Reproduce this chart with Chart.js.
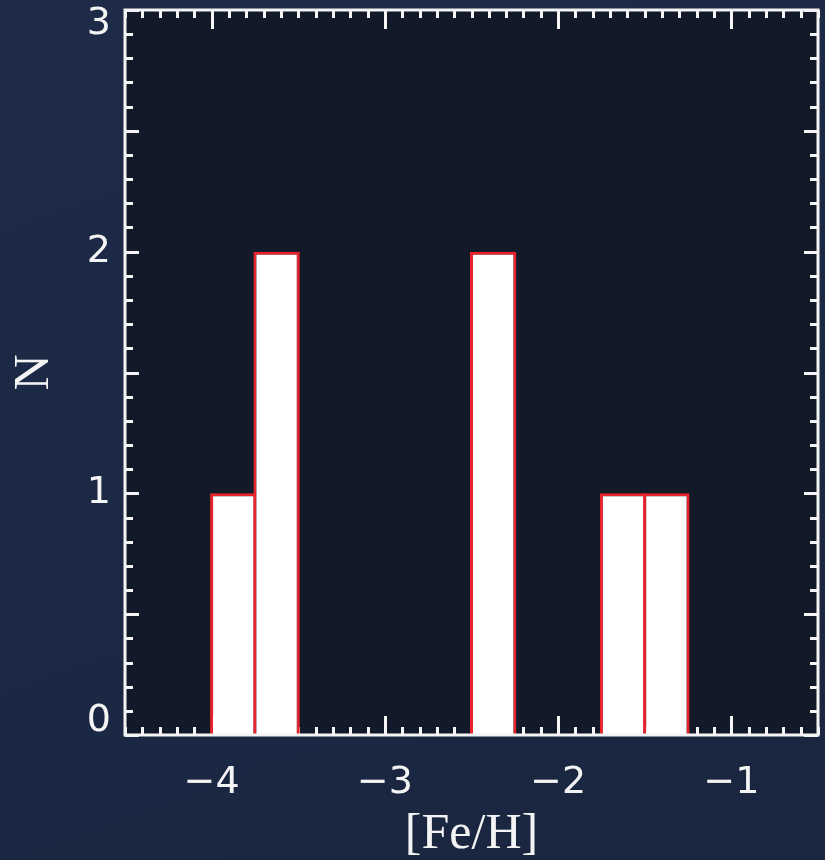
<!DOCTYPE html>
<html>
<head>
<meta charset="utf-8">
<script src="https://cdn.jsdelivr.net/npm/chart.js@4.4.1/dist/chart.umd.min.js"></script>
<style>
  html, body { margin: 0; padding: 0; }
  body { width: 825px; height: 860px; background: linear-gradient(160deg, #1d2b48 0%, #1b2844 60%, #1a263f 100%); }
  canvas { display: block; }
</style>
</head>
<body>
<canvas id="histChart" width="825" height="860"></canvas>
<script>
// histogram bins of [Fe/H], width 0.25 dex
const binLeft = [-4.0, -3.75, -2.5, -1.75, -1.5];
const binWidth = 0.25;
const counts = [1, 2, 2, 1, 1];

const xTickValues = [-4, -3, -2, -1];
const xTickLabels = ['\u22124', '\u22123', '\u22122', '\u22121'];
const yTickValues = [0, 1, 2, 3];
const yTickLabels = ['0', '1', '2', '3'];

const xRange = [-4.5, -0.5];
const yRange = [0, 3];

const ink = '#f4f4f4';

// plot fill + inward tick marks (under the bars), frame on top
const framePlugin = {
  id: 'frame',
  beforeDatasetsDraw(chart) {
    const { ctx, chartArea: a, scales } = chart;
    const xs = scales.x, ys = scales.y;
    ctx.save();
    ctx.fillStyle = '#121a29';
    ctx.fillRect(a.left, a.top, a.right - a.left, a.bottom - a.top);
    ctx.strokeStyle = ink;
    ctx.lineWidth = 3;
    ctx.beginPath();
    for (let i = Math.round(xRange[0] * 10); i <= Math.round(xRange[1] * 10); i++) {
      const px = Math.round(xs.getPixelForValue(i / 10)) + 0.5;
      const len = i % 10 === 0 ? 19 : 8;
      ctx.moveTo(px, a.bottom); ctx.lineTo(px, a.bottom - len);
      ctx.moveTo(px, a.top); ctx.lineTo(px, a.top + len);
    }
    for (let i = yRange[0] * 10; i <= yRange[1] * 10; i++) {
      const py = Math.round(ys.getPixelForValue(i / 10)) + 0.5;
      const len = i % 5 === 0 ? 14 : 8;
      ctx.moveTo(a.left, py); ctx.lineTo(a.left + len, py);
      ctx.moveTo(a.right, py); ctx.lineTo(a.right - len, py);
    }
    ctx.stroke();
    ctx.restore();
  },
  afterDraw(chart) {
    const { ctx, chartArea: a } = chart;
    ctx.save();
    ctx.strokeStyle = ink;
    ctx.lineWidth = 3;
    ctx.strokeRect(a.left, a.top, a.right - a.left, a.bottom - a.top);
    ctx.restore();
  }
};

const ctx = document.getElementById('histChart').getContext('2d');

new Chart(ctx, {
  type: 'bar',
  data: {
    datasets: [{
      data: binLeft.map((x, i) => ({ x: x + binWidth / 2, y: counts[i] })),
      backgroundColor: '#ffffff',
      borderColor: '#e8232b',
      borderWidth: 3,
      borderSkipped: 'start',
      barPercentage: 1.07,   // border straddles the bin edge, neighbours share one line
      categoryPercentage: 1.0
    }]
  },
  options: {
    responsive: false,
    animation: false,
    layout: { padding: { top: 10, right: 7, left: 0, bottom: 0 } },
    plugins: {
      legend: { display: false },
      tooltip: { enabled: false }
    },
    scales: {
      x: {
        type: 'linear',
        min: xRange[0],
        max: xRange[1],
        offset: false,
        grid: { display: false, drawTicks: false },
        border: { display: false },
        afterBuildTicks: (s) => { s.ticks = xTickValues.map(v => ({ value: v })); },
        afterFit: (s) => { s.height = 125; s.paddingLeft = 0; s.paddingRight = 0; },
        ticks: {
          color: ink,
          padding: 29,
          maxRotation: 0,
          font: { family: 'DejaVu Sans', size: 38, lineHeight: 1 },
          callback: (v, i) => xTickLabels[i]
        },
        title: {
          display: true,
          text: '[Fe/H]',
          color: ink,
          padding: 0,
          font: { family: 'Liberation Serif', size: 50, lineHeight: 1 }
        }
      },
      y: {
        min: yRange[0],
        max: yRange[1],
        grid: { display: false, drawTicks: false },
        border: { display: false },
        afterBuildTicks: (s) => { s.ticks = yTickValues.map(v => ({ value: v })); },
        afterFit: (s) => { s.width = 125; s.paddingTop = 0; s.paddingBottom = 0; },
        ticks: {
          color: ink,
          padding: 14,
          font: { family: 'DejaVu Sans', size: 38, lineHeight: 0.74 },
          callback: (v, i) => {
            const lab = yTickLabels[i];
            if (i === 0) return [lab, ''];
            if (i === yTickLabels.length - 1) return ['', lab];
            return lab;
          }
        },
        title: {
          display: true,
          text: 'N',
          color: ink,
          padding: { top: 10, bottom: 0 },
          font: { family: 'Liberation Serif', size: 50, lineHeight: 1 }
        }
      }
    }
  },
  plugins: [framePlugin]
});
</script>
</body>
</html>
